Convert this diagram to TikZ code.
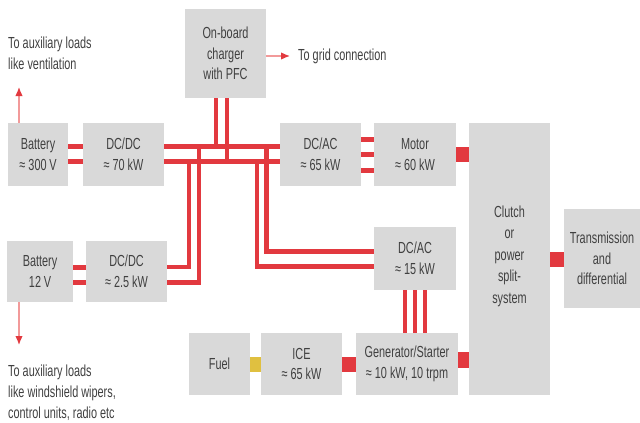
\documentclass[tikz,border=0pt]{standalone}
\usepackage{fontspec}
\setmainfont[FakeStretch=0.68]{Liberation Sans}
\usetikzlibrary{arrows.meta}
\definecolor{boxgray}{HTML}{D9D9D9}
\definecolor{busred}{HTML}{E2393F}
\definecolor{fuelyel}{HTML}{E0C040}
\definecolor{txt}{HTML}{404040}
\definecolor{pale}{HTML}{F29A9A}
\begin{document}
\begin{tikzpicture}[x=1pt,y=-1pt,
  box/.style={fill=boxgray, inner sep=0pt, align=center, text=txt,
    font=\fontsize{16}{20.5}\selectfont},
  bus/.style={draw=busred, line width=4.5pt},
  link/.style={draw=busred, line width=5pt},
  phase/.style={draw=busred, line width=4pt},
  shaft/.style={draw=busred, line width=15pt},
  fuelline/.style={draw=fuelyel, line width=15pt},
  aux/.style={draw=pale, line width=1.3pt, -{Latex[length=9pt,width=7.5pt,color=busred]}},
  lbl/.style={text=txt, align=left, inner sep=0pt, font=\fontsize{16}{21}\selectfont}]
\useasboundingbox (0,0) rectangle (640,423);

% boxes
\node[box, minimum width=60pt, minimum height=63pt] (bat300) at (38,154.5) {Battery\\≈ 300\,V};
\node[box, minimum width=81pt, minimum height=63pt] (dcdc70) at (123.5,154.5) {DC/DC\\≈ 70 kW};
\node[box, minimum width=81pt, minimum height=89pt] (charger) at (225.5,53.5) {On-board\\charger\\with PFC};
\node[box, minimum width=81pt, minimum height=63pt] (dcac65) at (320.5,154.5) {DC/AC\\≈ 65 kW};
\node[box, minimum width=82pt, minimum height=63pt] (motor) at (415,154.5) {Motor\\≈ 60 kW};
\node[box, minimum width=81pt, minimum height=272pt] (clutch) at (509.5,259) {};
\node[text=txt, align=center, inner sep=0pt, font=\fontsize{16}{21.5}\selectfont] (clutchtxt) at (509.5,256) {Clutch\\or\\power\\split-\\system};
\node[box, minimum width=76pt, minimum height=99pt] (trans) at (602,258.5) {Transmission\\and\\differential};
\node[box, minimum width=82pt, minimum height=63pt] (dcac15) at (415,258.5) {DC/AC\\≈ 15 kW};
\node[box, minimum width=102pt, minimum height=62pt] (gen) at (407,364) {Generator/Starter\\≈ 10 kW, 10 trpm};
\node[box, minimum width=81pt, minimum height=62pt] (ice) at (301.5,364) {ICE\\≈ 65 kW};
\node[box, minimum width=61pt, minimum height=62pt] (fuel) at (219.5,364) {Fuel};
\node[box, minimum width=66pt, minimum height=61pt] (bat12) at (40,271.5) {Battery\\12\,V};
\node[box, minimum width=81pt, minimum height=61pt] (dcdc25) at (126.5,271.5) {DC/DC\\≈ 2.5 kW};

% bus levels and junctions
\coordinate (yt) at (0,146.5);
\coordinate (yb) at (0,161.5);
\coordinate (j1) at (189,161.5);
\coordinate (j2) at (199,146.5);
\coordinate (j3) at (266.5,146.5);
\coordinate (j4) at (257,161.5);

% battery 300 V to DC/DC
\draw[link] (bat300.east |- yt) -- (dcdc70.west |- yt);
\draw[link] (bat300.east |- yb) -- (dcdc70.west |- yb);
% high-voltage bus
\draw[bus] (dcdc70.east |- yt) -- (dcac65.west |- yt);
\draw[bus] (dcdc70.east |- yb) -- (dcac65.west |- yb);
% charger
\draw[phase] ([xshift=-9.5pt]charger.south) -- ([xshift=-9.5pt]charger.south |- yt);
\draw[phase] ([xshift=1.5pt]charger.south) -- ([xshift=1.5pt]charger.south |- yb);
% 12 V branch
\draw[link] (bat12.east |- 0,267) -- (dcdc25.west |- 0,267);
\draw[link] (bat12.east |- 0,282.5) -- (dcdc25.west |- 0,282.5);
\draw[bus] ([yshift=4.5pt]dcdc25.east) -| (j1);
\draw[bus] ([yshift=-11pt]dcdc25.east) -| (j2);
% DC/AC 15 kW branch
\draw[bus] ([yshift=7pt]dcac15.west) -| (j3);
\draw[bus] ([yshift=-8pt]dcac15.west) -| (j4);
% DC/AC 65 to motor
\foreach \s in {15,0,-15.5} \draw[link] ([yshift=\s pt]dcac65.east) -- ([yshift=\s pt]motor.west);
% DC/AC 15 to generator
\foreach \s in {-10,0,10} \draw[phase] ([xshift=\s pt]dcac15.south) -- ([xshift=\s pt]dcac15.south |- gen.north);
% mechanical links
\draw[shaft] (motor.east) -- (motor.east -| clutch.west);
\draw[shaft] (clutch.east) -- (clutch.east -| trans.west);
\draw[shaft, line width=16pt] ([yshift=4pt]gen.east) -- ([yshift=4pt]gen.east -| clutch.west);
\draw[shaft] (ice.east) -- (gen.west);
\draw[fuelline] (fuel.east) -- (ice.west);

% auxiliary arrows
\coordinate (a1) at (19,87);
\coordinate (a2) at (19,345);
\coordinate (a3) at (290,56);
\draw[aux] ([xshift=-19pt]bat300.north) -- (a1);
\draw[aux] ([xshift=-21pt]bat12.south) -- (a2);
\draw[aux] ([yshift=-2.5pt]charger.east) -- (a3);

% labels
\node[lbl, anchor=west] (t1) at (8,53.5) {To auxiliary loads\\like ventilation};
\node[lbl, anchor=west] (t2) at (298,56) {To grid connection};
\node[lbl, anchor=west] (t3) at (8,393) {To auxiliary loads\\like windshield wipers,\\control units, radio etc};
\end{tikzpicture}
\end{document}
